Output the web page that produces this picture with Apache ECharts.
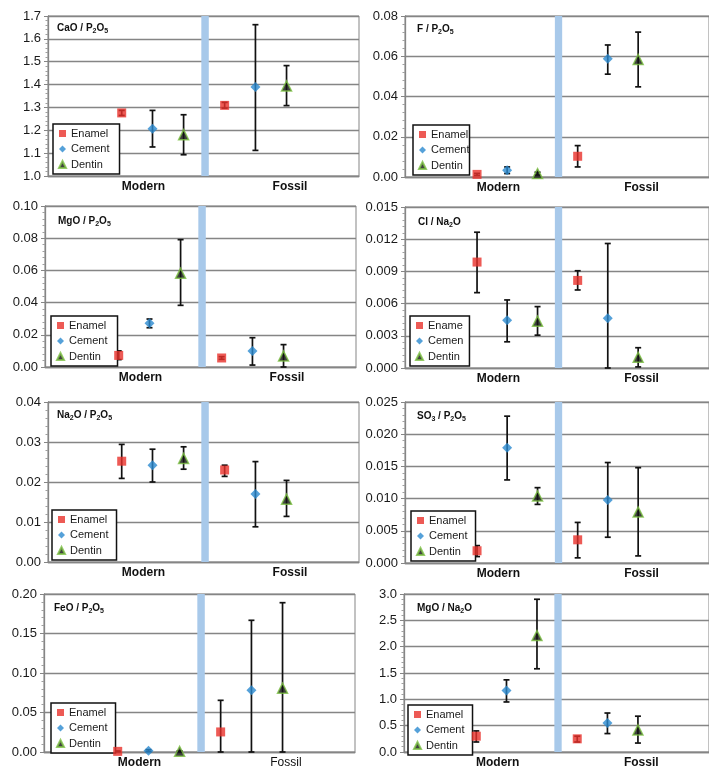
<!DOCTYPE html>
<html>
<head>
<meta charset="utf-8">
<script src="https://cdn.jsdelivr.net/npm/echarts@6/dist/echarts.min.js"></script>
<style>
html,body{margin:0;padding:0;background:#fff;}
#chart{width:709px;height:769px;}
</style>
</head>
<body>
<div id="chart"></div>
<script>
// ---- categories ----
const materials = ['Enamel', 'Cement', 'Dentin'];
const groupLabels = ['Modern', 'Fossil'];
// x-values of the scatter points (modern group, fossil group) and group label positions
const modernX = [2.37, 3.36, 4.36];
const fossilX = [5.68, 6.67, 7.67];
const groupLabelX = [3.07, 7.78];
const bandX = [4.93, 5.17];

// ---- values: order = Modern Enamel, Cement, Dentin, Fossil Enamel, Cement, Dentin ----
const caoMean = [1.276, 1.207, 1.181, 1.309, 1.389, 1.394];
const caoLow  = [1.265, 1.127, 1.093, 1.297, 1.112, 1.308];
const caoHigh = [1.287, 1.287, 1.268, 1.322, 1.662, 1.483];

const fMean = [0.0013, 0.0033, 0.0017, 0.0103, 0.0588, 0.0584];
const fLow  = [0.0008, 0.0017, 0.0010, 0.0050, 0.0511, 0.0448];
const fHigh = [0.0018, 0.0050, 0.0024, 0.0156, 0.0656, 0.0720];

const mgoPMean = [0.0072, 0.0271, 0.0582, 0.0056, 0.0099, 0.0068];
const mgoPLow  = [0.0046, 0.0244, 0.0383, 0.0048, 0.0012, 0.0000];
const mgoPHigh = [0.0100, 0.0298, 0.0791, 0.0064, 0.0182, 0.0139];

const clMean = [0.00987, 0.00445, 0.00436, 0.00816, 0.00464, 0.00099];
const clLow  = [0.00702, 0.00244, 0.00306, 0.00727, 0.00000, 0.00010];
const clHigh = [0.01265, 0.00634, 0.00572, 0.00906, 0.01160, 0.00189];

const naMean = [0.0252, 0.0242, 0.0259, 0.0230, 0.0170, 0.0157];
const naLow  = [0.0209, 0.0200, 0.0232, 0.0214, 0.0088, 0.0114];
const naHigh = [0.0294, 0.0282, 0.0288, 0.0242, 0.0251, 0.0204];

const so3Mean = [0.0019, 0.0179, 0.0104, 0.0036, 0.0098, 0.0079];
const so3Low  = [0.0010, 0.0129, 0.0091, 0.0008, 0.0040, 0.0011];
const so3High = [0.0027, 0.0228, 0.0117, 0.0063, 0.0156, 0.0148];

const feoMean = [0.0008, 0.0017, 0.0008, 0.0254, 0.0783, 0.0808];
const feoLow  = [0.0003, 0.0005, 0.0002, 0.0000, 0.0000, 0.0000];
const feoHigh = [0.0013, 0.0029, 0.0014, 0.0654, 0.1667, 0.1890];

const mgoNaMean = [0.30, 1.17, 2.21, 0.25, 0.55, 0.42];
const mgoNaLow  = [0.19, 0.95, 1.58, 0.19, 0.35, 0.17];
const mgoNaHigh = [0.40, 1.37, 2.90, 0.30, 0.74, 0.68];

// ---- y axis tick settings ----
const yTicks = {
  cao:   {min: 1.0, max: 1.7,   interval: 0.1,   dec: 1},
  f:     {min: 0,   max: 0.08,  interval: 0.02,  dec: 2},
  mgoP:  {min: 0,   max: 0.10,  interval: 0.02,  dec: 2},
  cl:    {min: 0,   max: 0.015, interval: 0.003, dec: 3},
  na:    {min: 0,   max: 0.04,  interval: 0.01,  dec: 2},
  so3:   {min: 0,   max: 0.025, interval: 0.005, dec: 3},
  feo:   {min: 0,   max: 0.20,  interval: 0.05,  dec: 2},
  mgoNa: {min: 0,   max: 3.0,   interval: 0.5,   dec: 1}
};

// ---- panel definitions (layout) ----
const panels = [
  {title: 'CaO / P{s|2}O{s|5}', mean: caoMean, low: caoLow, high: caoHigh, y: yTicks.cao,
   grid: {left: 48, top: 16, width: 311, height: 160}, titlePos: [57, 21], legendPos: [53, 124], legendPadR: 10},
  {title: 'F / P{s|2}O{s|5}', mean: fMean, low: fLow, high: fHigh, y: yTicks.f,
   grid: {left: 405, top: 16, width: 311, height: 161}, titlePos: [417, 22], legendPos: [413, 125], legendPadR: 0, legendClip: 40},
  {title: 'MgO / P{s|2}O{s|5}', mean: mgoPMean, low: mgoPLow, high: mgoPHigh, y: yTicks.mgoP,
   grid: {left: 45, top: 206, width: 311, height: 161}, titlePos: [58, 214], legendPos: [51, 316], legendPadR: 10},
  {title: 'Cl / Na{s|2}O', mean: clMean, low: clLow, high: clHigh, y: yTicks.cl,
   grid: {left: 405, top: 207, width: 311, height: 161}, titlePos: [418, 215], legendPos: [410, 316], legendPadR: 6, legendClip: 38},
  {title: 'Na{s|2}O / P{s|2}O{s|5}', mean: naMean, low: naLow, high: naHigh, y: yTicks.na,
   grid: {left: 48, top: 402, width: 311, height: 160}, titlePos: [57, 408], legendPos: [52, 510], legendPadR: 8},
  {title: 'SO{s|3} / P{s|2}O{s|5}', mean: so3Mean, low: so3Low, high: so3High, y: yTicks.so3,
   grid: {left: 405, top: 402, width: 311, height: 161}, titlePos: [417, 409], legendPos: [411, 511], legendPadR: 8},
  {title: 'FeO / P{s|2}O{s|5}', mean: feoMean, low: feoLow, high: feoHigh, y: yTicks.feo,
   grid: {left: 44, top: 594, width: 311, height: 160}, titlePos: [54, 601], legendPos: [51, 703], legendPadR: 8, fossilRegular: true},
  {title: 'MgO / Na{s|2}O', mean: mgoNaMean, low: mgoNaLow, high: mgoNaHigh, y: yTicks.mgoNa,
   grid: {left: 404, top: 594, width: 311, height: 162}, titlePos: [417, 601], legendPos: [408, 705], legendPadR: 8}
];

const FONT = 'Liberation Sans, Arial, Helvetica, sans-serif';
const GRAY = '#858585';
const matStyle = {
  Enamel: {symbol: 'rect', size: 9, itemStyle: {color: '#e8312b'}},
  Cement: {symbol: 'diamond', size: 10, itemStyle: {color: '#2b8ad0'}},
  Dentin: {symbol: 'triangle', size: 10, itemStyle: {color: '#111111', borderColor: '#7cc142', borderWidth: 1.5}}
};

const option = {
  animation: false,
  backgroundColor: '#ffffff',
  textStyle: {fontFamily: FONT},
  grid: [], xAxis: [], yAxis: [], series: [], title: [], legend: []
};

panels.forEach((p, i) => {
  option.grid.push(Object.assign({show: true, borderColor: GRAY, borderWidth: 1, backgroundColor: 'transparent'}, p.grid));
  option.xAxis.push({
    type: 'value', gridIndex: i, min: 0, max: 10,
    axisLine: {show: true, lineStyle: {color: GRAY, width: 1.3}},
    axisTick: {show: false},
    splitLine: {show: false},
    axisLabel: {
      customValues: groupLabelX,
      margin: 5,
      formatter: (v) => {
        const idx = v < 5 ? 0 : 1;
        return (idx === 1 && p.fossilRegular) ? '{n|' + groupLabels[idx] + '}' : '{b|' + groupLabels[idx] + '}';
      },
      rich: {
        b: {fontSize: 12, fontWeight: 'bold', color: '#111', fontFamily: FONT},
        n: {fontSize: 12, fontWeight: 'normal', color: '#111', fontFamily: FONT}
      }
    }
  });
  option.yAxis.push({
    type: 'value', gridIndex: i, min: p.y.min, max: p.y.max, interval: p.y.interval,
    axisLine: {show: true, lineStyle: {color: GRAY, width: 1.3}},
    axisTick: {show: true, length: 4, lineStyle: {color: GRAY}},
    minorTick: {show: true, splitNumber: 5, length: 2.5, lineStyle: {color: '#a0a0a0'}},
    splitLine: {show: true, lineStyle: {color: GRAY, width: 1.4}},
    axisLabel: {fontSize: 13, color: '#1a1a1a', margin: 7, formatter: (v) => v.toFixed(p.y.dec)}
  });
  // blue separator band
  option.series.push({
    type: 'scatter', xAxisIndex: i, yAxisIndex: i, data: [], silent: true, z: 1,
    markArea: {silent: true, itemStyle: {color: '#a8c9ea', opacity: 1},
      data: [[{xAxis: bandX[0]}, {xAxis: bandX[1]}]]}
  });
  // error bars
  const xs = modernX.concat(fossilX);
  const errData = xs.map((x, k) => [x, p.low[k], p.high[k]]);
  option.series.push({
    type: 'custom', xAxisIndex: i, yAxisIndex: i, z: 3, silent: true,
    data: errData,
    encode: {x: 0, y: [1, 2]},
    renderItem: (params, api) => {
      const x = api.value(0);
      const top = api.coord([x, api.value(2)]);
      const bot = api.coord([x, api.value(1)]);
      const cap = 3;
      const st = {stroke: '#111', lineWidth: 1.7};
      return {type: 'group', children: [
        {type: 'line', shape: {x1: top[0], y1: top[1], x2: bot[0], y2: bot[1]}, style: st},
        {type: 'line', shape: {x1: top[0] - cap, y1: top[1], x2: top[0] + cap, y2: top[1]}, style: st},
        {type: 'line', shape: {x1: bot[0] - cap, y1: bot[1], x2: bot[0] + cap, y2: bot[1]}, style: st}
      ]};
    }
  });
  // markers
  materials.forEach((m, j) => {
    const s = matStyle[m];
    option.series.push({
      type: 'scatter', name: m, xAxisIndex: i, yAxisIndex: i, z: 4,
      symbol: s.symbol, symbolSize: s.size, itemStyle: s.itemStyle,
      data: [[modernX[j], p.mean[j]], [fossilX[j], p.mean[j + 3]]]
    });
  });
  option.title.push({
    text: p.title, left: p.titlePos[0], top: p.titlePos[1], padding: 0,
    textStyle: {fontSize: 10, fontWeight: 'bold', color: '#111', lineHeight: 14, fontFamily: FONT,
      rich: {s: {fontSize: 7, fontWeight: 'bold', color: '#111', lineHeight: 8, verticalAlign: 'bottom', fontFamily: FONT}}}
  });
  const ts = {fontSize: 11, color: '#1a1a1a', fontFamily: FONT};
  if (p.legendClip) { ts.width = p.legendClip; ts.overflow = 'truncate'; ts.ellipsis = ''; }
  option.legend.push({
    orient: 'vertical', left: p.legendPos[0], top: p.legendPos[1],
    padding: [4, p.legendPadR, 4, 5],
    backgroundColor: '#ffffff', borderColor: '#111', borderWidth: 1.5, borderRadius: 0,
    itemWidth: 7, itemHeight: 7, itemGap: 4.5, itemTextGap: 4,
    selectedMode: false,
    textStyle: ts,
    data: materials.map((m) => ({name: m, icon: matStyle[m].symbol}))
  });
});

const chart = echarts.init(document.getElementById('chart'), null, {renderer: 'canvas'});
chart.setOption(option);
</script>
</body>
</html>
